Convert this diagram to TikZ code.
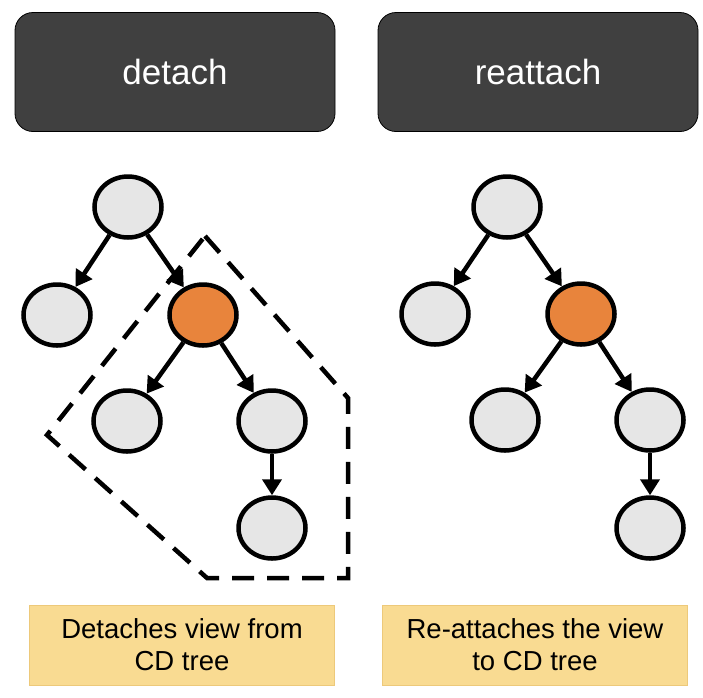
\documentclass[tikz,border=0pt]{standalone}
\usepackage{fontspec}
\setmainfont{Liberation Sans}
\usetikzlibrary{arrows.meta,shapes.geometric}
\definecolor{darkbox}{HTML}{404040}
\definecolor{nodegrey}{HTML}{E6E6E6}
\definecolor{nodeorange}{HTML}{E8843C}
\definecolor{notefill}{HTML}{F9DB92}
\definecolor{noteedge}{HTML}{EDC97A}
\tikzset{
	vnode/.style={draw,ellipse,line width=4.5pt,fill=nodegrey,inner sep=0pt,minimum width=67pt,minimum height=61pt},
	hotnode/.style={vnode,fill=nodeorange},
	title/.style={draw=black,line width=0.8pt,fill=darkbox,rounded corners=18pt,minimum width=320pt,minimum height=119pt,text=white,font=\fontsize{35}{40}\selectfont},
	note/.style={draw=noteedge,line width=0.6pt,fill=notefill,minimum width=305pt,minimum height=80pt,align=center,font=\fontsize{27.5}{32}\selectfont},
	link/.style={->,line width=4.5pt}
}
\begin{document}
\begin{tikzpicture}[x=1pt,y=-1pt,>={Triangle[length=16pt,width=19pt]}]

	\useasboundingbox (0,0) rectangle (703,697);
	
	\node[title] (Detach) at (175,72) {detach};
	\node[title] (Reattach) at (538,72) {reattach};
	
	% detach tree
	\node[vnode] (Root) at (128,207) {};
	\node[vnode] (Left) at (57,315) {};
	\node[hotnode] (View) at (203,315) {};
	\node[vnode] (ViewL) at (127,421) {};
	\node[vnode] (ViewR) at (272,421) {};
	\node[vnode] (ViewRR) at (272,528) {};
	
	\draw[line width=4.5pt,dash pattern=on 22pt off 13pt] (205,236) -- (348,398) -- (348,578) -- (207,578) -- (47,435) -- cycle;
	
	\draw[link] (Root) -- (Left);
	\draw[link] (Root) -- (View);
	\draw[link] (View) -- (ViewL);
	\draw[link] (View) -- (ViewR);
	\draw[link] (ViewR) -- (ViewRR);
	
	% reattach tree
	\node[vnode] (Root2) at (507,207) {};
	\node[vnode] (Left2) at (435,314) {};
	\node[hotnode] (View2) at (581,314) {};
	\node[vnode] (ViewL2) at (505,420) {};
	\node[vnode] (ViewR2) at (650,420) {};
	\node[vnode] (ViewRR2) at (650,528) {};
	
	\draw[link] (Root2) -- (Left2);
	\draw[link] (Root2) -- (View2);
	\draw[link] (View2) -- (ViewL2);
	\draw[link] (View2) -- (ViewR2);
	\draw[link] (ViewR2) -- (ViewRR2);
	
	\node[note] (DetachNote) at (182,645) {Detaches view from\\CD tree};
	\node[note] (ReattachNote) at (535,645) {Re-attaches the view\\to CD tree};
	
\end{tikzpicture}
\end{document}
